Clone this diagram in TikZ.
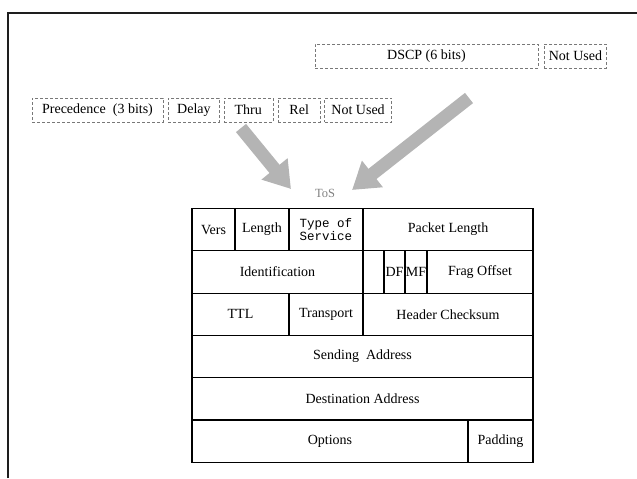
\documentclass[tikz,border=0pt]{standalone}
\usepackage{fontspec}
\setmainfont{Liberation Serif}
\setmonofont{Liberation Mono}
\usepackage{tikz}
\usetikzlibrary{positioning,arrows.meta}
\definecolor{framerule}{RGB}{30,30,30}
\definecolor{bitrule}{RGB}{120,120,120}
\definecolor{hatchgray}{RGB}{180,180,180}
\tikzset{
  cell/.style={rectangle,draw=black,line width=1.1pt,inner sep=0pt,outer sep=0pt,minimum height=42.3pt,align=center,font=\fontsize{14}{16}\selectfont},
  bitbox/.style={rectangle,draw=bitrule,densely dashed,thin,inner sep=0pt,minimum height=24pt,align=center,font=\fontsize{14}{16}\selectfont},
  bigarrow/.style={line width=13pt,draw=hatchgray,-{Triangle[width=32pt,length=26pt]}}
}
\begin{document}
\begin{tikzpicture}[x=1pt,y=-1pt]
  \useasboundingbox (0,0) rectangle (637,479);
  % outer frame
  \draw[framerule,line width=1.4pt] (8,478) -- (8,13) -- (637,13);
  % DSCP bits
  \node[bitbox,minimum width=223pt] (dscp) at (426.5,56) {DSCP (6 bits)};
  \node[bitbox,minimum width=62pt,right=6pt of dscp] (dunused) {Not Used};
  % old ToS bits
  \node[bitbox,minimum width=131pt] (prec) at (97.5,110) {Precedence\ \ (3 bits)};
  \node[bitbox,minimum width=51pt,right=5pt of prec] (delay) {Delay};
  \node[bitbox,minimum width=49pt,right=4pt of delay] (thru) {Thru};
  \node[bitbox,minimum width=42pt,right=5pt of thru] (rel) {Rel};
  \node[bitbox,minimum width=67pt,right=4pt of rel] (tunused) {Not Used};
  % header table
  \node[cell,minimum width=43pt,anchor=north west] (vers) at (192,208.5) {Vers};
  \node[cell,minimum width=54pt,right=0pt of vers] (length) {Length};
  \node[cell,minimum width=74pt,right=0pt of length,font=\ttfamily\fontsize{12.5}{13.5}\selectfont] (tos) {Type of\\Service};
  \node[cell,minimum width=170pt,right=0pt of tos] (plen) {Packet Length};
  \node[cell,minimum width=171pt,below=0pt of vers.south west,anchor=north west] (ident) {Identification};
  \node[cell,minimum width=21pt,right=0pt of ident] (flag) {};
  \node[cell,minimum width=21pt,right=0pt of flag] (df) {DF};
  \node[cell,minimum width=22pt,right=0pt of df] (mf) {MF};
  \node[cell,minimum width=106pt,right=0pt of mf] (frag) {Frag Offset};
  \node[cell,minimum width=97pt,below=0pt of ident.south west,anchor=north west] (ttl) {TTL};
  \node[cell,minimum width=74pt,right=0pt of ttl] (trans) {Transport};
  \node[cell,minimum width=170pt,right=0pt of trans] (check) {Header Checksum};
  \node[cell,minimum width=341pt,below=0pt of ttl.south west,anchor=north west] (send) {Sending\ \ Address};
  \node[cell,minimum width=341pt,below=0pt of send] (dest) {Destination Address};
  \node[cell,minimum width=276pt,below=0pt of dest.south west,anchor=north west] (opts) {Options};
  \node[cell,minimum width=65pt,right=0pt of opts] (pad) {Padding};
  % ToS label and arrows
  \node[text=gray,font=\fontsize{12.5}{14}\selectfont] (toslabel) at (325,193) {ToS};
  \coordinate (oldtail) at (241,128);
  \coordinate (oldhead) at (291,189);
  \coordinate (newtail) at (469,98);
  \coordinate (newhead) at (352,190);
  \draw[bigarrow] (oldtail) -- (oldhead);
  \draw[bigarrow] (newtail) -- (newhead);
\end{tikzpicture}
\end{document}
